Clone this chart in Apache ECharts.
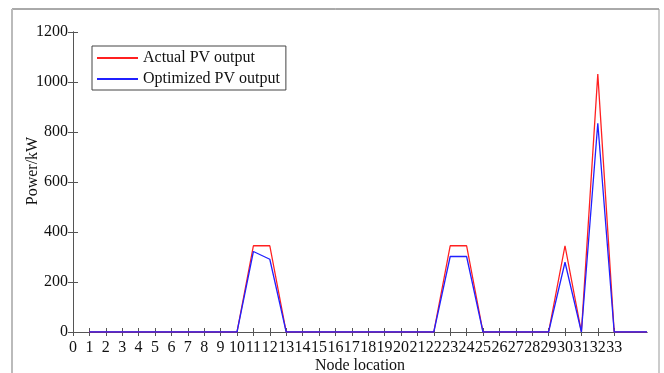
<!DOCTYPE html>
<html>
<head>
<meta charset="utf-8">
<script src="https://cdn.jsdelivr.net/npm/echarts@6/dist/echarts.min.js"></script>
<style>
  html, body {margin: 0; padding: 0; background: #fff;}
  #chart {width: 664px; height: 373px;}
</style>
</head>
<body>
<div id="chart"></div>
<script>
const nodes = [1, 2, 3, 4, 5, 6, 7, 8, 9, 10, 11, 12, 13, 14, 15, 16, 17, 18, 19, 20,
  21, 22, 23, 24, 25, 26, 27, 28, 29, 30, 31, 32, 33, 34, 35];
const actualPV = [0, 0, 0, 0, 0, 0, 0, 0, 0, 0, 345, 345, 0, 0, 0, 0, 0, 0, 0, 0,
  0, 0, 345, 345, 0, 0, 0, 0, 0, 345, 0, 1032, 0, 0, 0];
const optimizedPV = [0, 0, 0, 0, 0, 0, 0, 0, 0, 0, 322, 291, 0, 0, 0, 0, 0, 0, 0, 0,
  0, 0, 302, 302, 0, 0, 0, 0, 0, 279, 0, 835, 0, 0, 0];
const xTicks = [0, 1, 2, 3, 4, 5, 6, 7, 8, 9, 10, 11, 12, 13, 14, 15, 16, 17, 18, 19, 20,
  21, 22, 23, 24, 25, 26, 27, 28, 29, 30, 31, 32, 33];

const font = '"Liberation Serif", "DejaVu Serif", serif';
const axisColor = '#555';

const chart = echarts.init(document.getElementById('chart'));

const pairs = vals => nodes.map((n, i) => [n, vals[i]]);

chart.setOption({
  animation: false,
  textStyle: {fontFamily: font},
  grid: {left: 73, right: 17, top: 32, bottom: 41, outerBoundsMode: 'none', containLabel: false},
  legend: {
    orient: 'vertical',
    left: 92,
    top: 46,
    itemWidth: 41,
    itemHeight: 2,
    itemGap: 5,
    padding: [4, 6, 3, 4],
    borderColor: '#444',
    borderWidth: 1,
    textStyle: {fontFamily: font, fontSize: 16, color: '#111'},
    data: ['Actual PV output', 'Optimized PV output']
  },
  graphic: [
    {type: 'line', shape: {x1: 12, y1: 9, x2: 659, y2: 9}, style: {stroke: '#555', lineWidth: 1}},
    {type: 'line', shape: {x1: 12, y1: 9, x2: 12, y2: 373}, style: {stroke: '#bbb', lineWidth: 2}},
    {type: 'line', shape: {x1: 659, y1: 9, x2: 659, y2: 373}, style: {stroke: '#999', lineWidth: 1}},
    {
      type: 'text', x: 33, y: 171, rotation: Math.PI / 2,
      style: {text: 'Power/kW', font: '16px ' + font, fill: '#111', align: 'center', verticalAlign: 'middle'}
    }
  ],
  xAxis: [{
    type: 'value',
    min: 0,
    max: 35,
    interval: 1,
    name: 'Node location',
    nameLocation: 'middle',
    nameGap: 26,
    nameMoveOverlap: false,
    nameTextStyle: {fontFamily: font, fontSize: 16, color: '#111'},
    axisLine: {lineStyle: {color: axisColor}},
    axisTick: {inside: true, length: 4, lineStyle: {color: axisColor}, customValues: xTicks},
    axisLabel: {fontFamily: font, fontSize: 16, color: '#111', margin: 8, customValues: xTicks},
    splitLine: {show: false}
  }, {
    type: 'value',
    position: 'top',
    min: 0,
    max: 35,
    axisLine: {show: true, lineStyle: {color: axisColor}},
    axisTick: {show: true, inside: true, length: 4, lineStyle: {color: axisColor}, customValues: xTicks},
    axisLabel: {show: false},
    splitLine: {show: false}
  }],
  yAxis: [{
    type: 'value',
    min: 0,
    max: 1200,
    interval: 200,
    axisLine: {show: true, lineStyle: {color: axisColor}},
    axisTick: {show: true, inside: true, length: 5, lineStyle: {color: axisColor}},
    axisLabel: {fontFamily: font, fontSize: 16, color: '#111', margin: 5, formatter: v => String(v)},
    splitLine: {show: false}
  }, {
    type: 'value',
    position: 'right',
    min: 0,
    max: 1200,
    interval: 200,
    axisLine: {show: true, lineStyle: {color: axisColor}},
    axisTick: {show: true, inside: true, length: 5, lineStyle: {color: axisColor}},
    axisLabel: {show: false},
    splitLine: {show: false}
  }],
  series: [{
    name: 'Actual PV output',
    type: 'line',
    data: pairs(actualPV),
    symbol: 'none',
    color: '#ff2020',
    lineStyle: {width: 1.3, color: '#ff2020'}
  }, {
    name: 'Optimized PV output',
    type: 'line',
    data: pairs(optimizedPV),
    symbol: 'none',
    color: '#2020ff',
    lineStyle: {width: 1.3, color: '#2020ff'}
  }]
});
</script>
</body>
</html>
